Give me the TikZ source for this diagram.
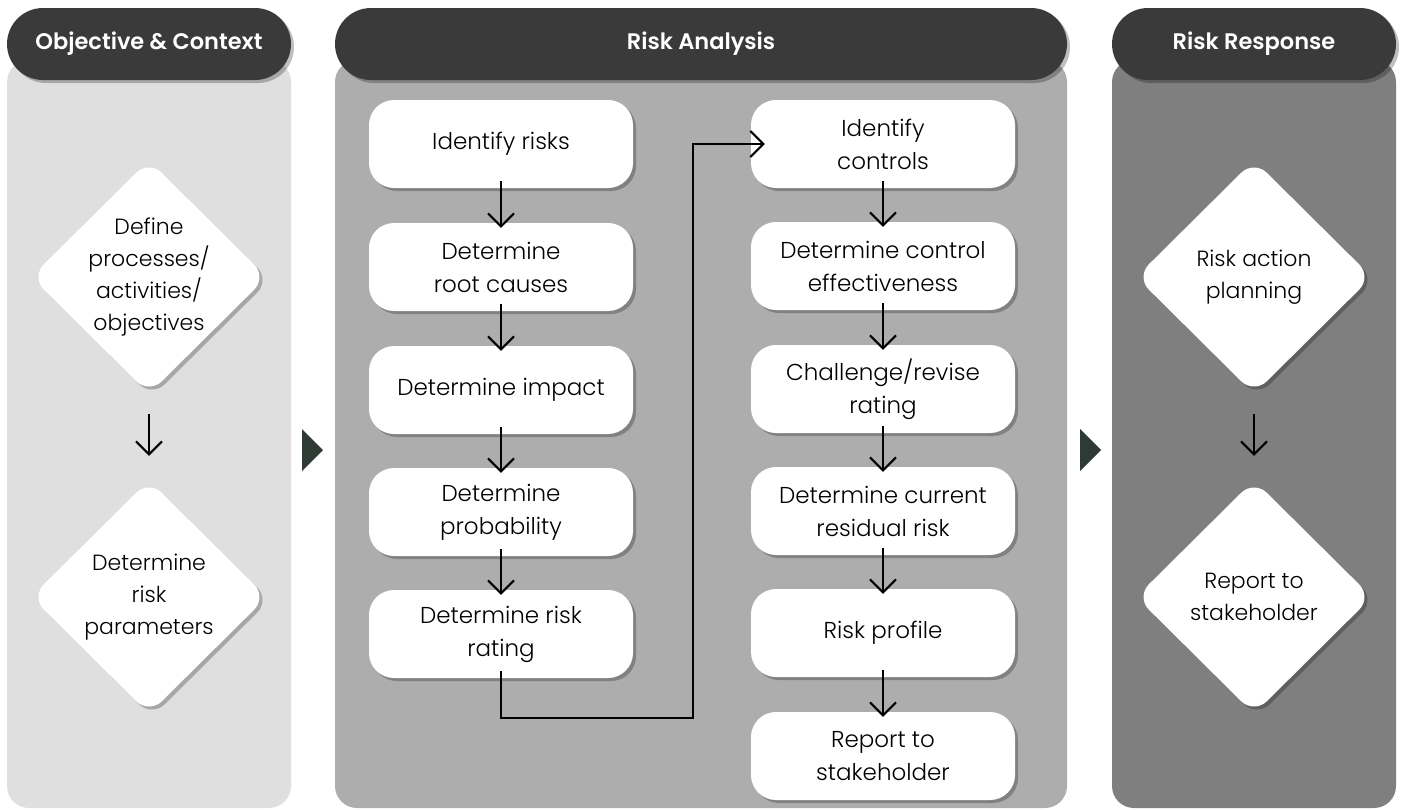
\documentclass[tikz,border=0pt]{standalone}
\usepackage{fontspec}
\setmainfont{Poppins}[UprightFont={* Light}, BoldFont={* SemiBold}]
\usetikzlibrary{arrows.meta,shapes.geometric,shadows}

\definecolor{headgray}{HTML}{3A3A3A}
\definecolor{panelA}{HTML}{DFDFDF}
\definecolor{panelB}{HTML}{ADADAD}
\definecolor{panelC}{HTML}{7F7F7F}
\definecolor{stepgreen}{HTML}{2E3B35}

\begin{document}
\begin{tikzpicture}[
    x=1pt, y=-1pt,
    >={Straight Barb[length=13pt,width=26pt,line width=2pt]},
    softshadow/.style={drop shadow={shadow xshift=3pt,shadow yshift=-3pt,opacity=0.25,fill=black}},
    header/.style={fill=headgray, text=white, rounded corners=36pt,
        minimum height=72pt, font=\bfseries\fontsize{22.5}{26}\selectfont, softshadow},
    taskbox/.style={fill=white, rounded corners=25pt, minimum width=264pt,
        minimum height=88pt, align=center, font=\fontsize{23}{33}\selectfont, softshadow},
    decision/.style={diamond, aspect=1, fill=white, rounded corners=18pt,
        minimum width=236pt, minimum height=234pt, inner sep=0pt, softshadow},
    dtext/.style={align=center, font=\fontsize{22}{32}\selectfont},
    flow/.style={->, line width=2pt, shorten <=-7pt, shorten >=-5pt},
    dflow/.style={->, line width=2pt, shorten <=20pt, shorten >=24pt}
]
\useasboundingbox (0,0) rectangle (1404,809);

% Panels
\fill[panelA, rounded corners=22pt] (7,60) rectangle (291,808);
\fill[panelB, rounded corners=22pt] (335,60) rectangle (1067,808);
\fill[panelC, rounded corners=22pt] (1112,60) rectangle (1396,808);

% Headers
\node[header, minimum width=284pt] (hobj) at (149,44) {Objective \& Context};
\node[header, minimum width=732pt] (hana) at (701,44) {Risk Analysis};
\node[header, minimum width=284pt] (hres) at (1254,44) {Risk Response};

% Step markers
\fill[stepgreen] (302,429) -- (323,450) -- (302,471) -- cycle;
\fill[stepgreen] (1080,429) -- (1101,450) -- (1080,471) -- cycle;

% Objective & Context
\node[decision] (dproc) at (149,277) {};
\node[dtext] (dproct) at (dproc) {Define\\processes/\\activities/\\objectives};
\node[decision] (dpar) at (149,597) {};
\node[dtext] (dpart) at (dpar) {Determine\\risk\\parameters};
\draw[dflow] (dproc) -- (dpar);

% Risk Analysis, left column
\node[taskbox] (irisk) at (501,144) {Identify risks};
\node[taskbox] (rcause) at (501,267) {Determine\\root causes};
\node[taskbox] (impact) at (501,390) {Determine impact};
\node[taskbox] (prob) at (501,512) {Determine\\probability};
\node[taskbox] (rrate) at (501,634) {Determine risk\\rating};

% Risk Analysis, right column
\node[taskbox] (ictrl) at (883,144) {Identify\\controls};
\node[taskbox] (ceff) at (883,266) {Determine control\\effectiveness};
\node[taskbox] (revise) at (883,389) {Challenge/revise\\rating};
\node[taskbox] (resid) at (883,511) {Determine current\\residual risk};
\node[taskbox] (prof) at (883,633) {Risk profile};
\node[taskbox] (rep) at (883,756) {Report to\\stakeholder};

\draw[flow] (irisk) -- (rcause);
\draw[flow] (rcause) -- (impact);
\draw[flow] (impact) -- (prob);
\draw[flow] (prob) -- (rrate);
\coordinate (bend) at (693,718);
\draw[flow, shorten >=-14pt] (rrate.south) |- (bend) |- (ictrl.west);
\draw[flow] (ictrl) -- (ceff);
\draw[flow] (ceff) -- (revise);
\draw[flow] (revise) -- (resid);
\draw[flow] (resid) -- (prof);
\draw[flow] (prof) -- (rep);

% Risk Response
\node[decision] (dplan) at (1254,277) {};
\node[dtext] (dplant) at (dplan) {Risk action\\planning};
\node[decision] (drep) at (1254,597) {};
\node[dtext] (drept) at (drep) {Report to\\stakeholder};
\draw[dflow] (dplan) -- (drep);

\end{tikzpicture}
\end{document}
